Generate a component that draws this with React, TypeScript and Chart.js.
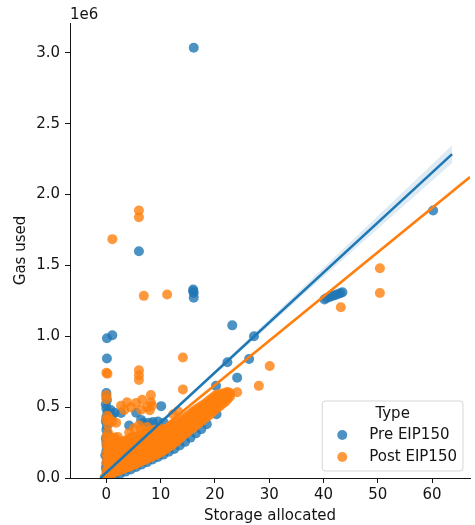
import React, { useEffect, useRef } from 'react';
import { Chart, registerables } from 'chart.js';

Chart.register(...registerables);

const FONT = '"DejaVu Sans", "Liberation Sans", sans-serif';
const FONT_SIZE = 15;
const TEXT = '#141414';

const xTicks = [0, 10, 20, 30, 40, 50, 60];
const yTicks = [0, 500000, 1000000, 1500000, 2000000, 2500000, 3000000];
const seriesNames = ['Pre EIP150', 'Post EIP150'];
const seriesRgb = ['31,119,180', '255,127,14'];
const legendTitle = 'Type';
const offsetLabel = '1e6';

// [storage allocated, gas used in thousands]
const preEip150: [number, number][] = [
  [16.1, 3035], [6.0, 1600], [60.2, 1887],
  [16.0, 1330], [16.0, 1318], [16.1, 1305], [16.1, 1272],
  [40.2, 1260], [40.6, 1270], [41.1, 1277], [41.6, 1284], [42.1, 1290], [42.6, 1297], [43.1, 1303], [43.5, 1310],
  [23.2, 1077], [27.2, 1000], [22.3, 817], [26.3, 840], [24.1, 708], [20.2, 650], [20.3, 450], [16.1, 395],
  [0.1, 986], [1.1, 1007], [0.1, 843],
  [10.1, 507], [10.6, 390], [13.0, 280],
  [1.5, 460], [2.7, 458], [1.0, 440], [0.8, 480],
  [5.5, 460], [6.4, 410], [6.8, 390], [7.8, 390], [8.6, 395], [9.5, 398], [4.2, 370],
  [0.0, 600], [0.0, 575], [0.1, 550], [-0.1, 520], [0.0, 490], [0.2, 460], [0.0, 430], [-0.1, 400],
  [0.1, 370], [0.0, 340], [0.2, 310], [-0.1, 280], [0.0, 250], [0.1, 220], [0.0, 190], [-0.2, 160],
  [0.1, 130], [0.0, 100], [-0.1, 70], [0.1, 40], [0.0, 15],
  [0.7, 8], [1.5, 15], [2.5, 28], [3.5, 45], [4.5, 60], [5.5, 78], [6.5, 95], [7.5, 112], [8.5, 130],
  [9.5, 148], [10.5, 165], [11.5, 185], [12.5, 205], [13.5, 230], [14.5, 255], [15.5, 285], [16.5, 315],
  [17.5, 345], [18.5, 380],
  [3.0, 150], [5.0, 200], [7.0, 260], [9.0, 300], [11.0, 340],
];

const postEip150: [number, number][] = [
  [6.0, 1887], [6.0, 1840], [1.1, 1685], [6.9, 1285], [11.2, 1295], [50.4, 1480], [50.4, 1305], [43.2, 1205],
  [30.1, 790], [28.1, 650], [24.1, 605],
  [14.1, 850], [14.1, 625], [6.0, 760], [6.0, 725], [6.0, 692], [0.0, 742], [0.2, 735],
  [0.0, 585], [0.0, 555], [0.2, 440], [0.5, 420], [1.1, 398], [0.0, 410], [1.8, 390], [0.3, 375],
  [0.3, 320], [0.0, 290], [0.2, 260], [0.0, 230], [0.3, 200], [0.0, 170], [0.2, 140], [0.0, 110],
  [0.3, 80], [0.0, 50], [0.2, 20], [-0.3, 5],
  [2.7, 510], [3.3, 480], [3.8, 535], [4.5, 500], [5.5, 530], [6.4, 482], [6.6, 552], [7.5, 500],
  [8.2, 585], [8.2, 535], [8.4, 510], [8.0, 478],
  [4.2, 320], [4.7, 290], [5.1, 350], [6.0, 372], [6.4, 340], [7.5, 360], [13.9, 320], [14.6, 370],
  [13.5, 345], [12.3, 450], [13.2, 470], [15.5, 390],
  [1.0, 30], [1.2, 85], [0.9, 135], [1.1, 185], [1.0, 235], [1.3, 280],
  [2.0, 45], [2.1, 95], [1.9, 145], [2.2, 195], [2.0, 245], [2.1, 290],
  [3.0, 60], [3.1, 110], [2.9, 160], [3.2, 210], [3.0, 260],
  [4.0, 75], [4.1, 125], [3.9, 175], [4.2, 225], [4.0, 270],
  [5.0, 90], [5.1, 140], [4.9, 190], [5.2, 240], [5.0, 285],
  [6.0, 110], [6.1, 160], [5.9, 210], [6.2, 260], [6.0, 300],
  [7.0, 125], [7.1, 175], [6.9, 225], [7.2, 275], [7.0, 315],
  [8.0, 145], [8.1, 195], [7.9, 245], [8.2, 290], [8.0, 330],
  [9.0, 160], [9.1, 210], [8.9, 255], [9.2, 300], [9.0, 340],
  [10.0, 180], [10.1, 215], [9.9, 250], [10.2, 285], [10.0, 320], [10.1, 350],
  [11.0, 205], [11.1, 240], [10.9, 275], [11.2, 310], [11.0, 345],
  [12.0, 230], [12.1, 265], [11.9, 300], [12.2, 335], [12.0, 365],
  [13.0, 260], [13.1, 295], [12.9, 330], [13.2, 360], [13.0, 390],
  [14.0, 295], [14.1, 325], [13.9, 355], [14.2, 385], [14.0, 410],
  [15.0, 325], [15.1, 355], [14.9, 385], [15.2, 415], [15.0, 440],
  [16.0, 355], [16.1, 385], [15.9, 415], [16.2, 445], [16.0, 470],
  [17.0, 385], [17.1, 415], [16.9, 445], [17.2, 470], [17.0, 495],
  [18.0, 415], [18.1, 445], [17.9, 470], [18.2, 495], [18.0, 520],
  [19.0, 445], [19.1, 475], [18.9, 500], [19.2, 525], [19.0, 550],
  [20.0, 480], [20.1, 510], [19.9, 535], [20.2, 560], [20.0, 580],
  [21.0, 510], [21.1, 540], [20.9, 565], [21.2, 590],
  [22.0, 540], [22.1, 565], [21.9, 590], [22.2, 605],
  [22.8, 575], [22.8, 600],
  [0.5, 20], [0.5, 60], [0.5, 110], [0.5, 160], [0.5, 210], [0.5, 260],
  [1.5, 40], [1.5, 90], [1.5, 140], [1.5, 190], [1.5, 240], [1.5, 285],
  [2.5, 55], [2.5, 105], [2.5, 155], [2.5, 205], [2.5, 255],
  [3.5, 70], [3.5, 120], [3.5, 170], [3.5, 220], [3.5, 265],
  [4.5, 85], [4.5, 135], [4.5, 185], [4.5, 235], [4.5, 280],
  [5.5, 100], [5.5, 150], [5.5, 200], [5.5, 250], [5.5, 290],
  [6.5, 118], [6.5, 168], [6.5, 218], [6.5, 265], [6.5, 305],
  [7.5, 135], [7.5, 185], [7.5, 235], [7.5, 280], [7.5, 320],
  [8.5, 152], [8.5, 200], [8.5, 250], [8.5, 295], [8.5, 335],
  [9.5, 170], [9.5, 200], [9.5, 235], [9.5, 270], [9.5, 305], [9.5, 340],
  [10.5, 192], [10.5, 228], [10.5, 262], [10.5, 298], [10.5, 333],
  [11.5, 218], [11.5, 252], [11.5, 288], [11.5, 322], [11.5, 355],
  [12.5, 245], [12.5, 280], [12.5, 315], [12.5, 348], [12.5, 378],
  [13.5, 278], [13.5, 310], [13.5, 342], [13.5, 372], [13.5, 400],
  [14.5, 310], [14.5, 340], [14.5, 370], [14.5, 400], [14.5, 425],
  [15.5, 340], [15.5, 370], [15.5, 400], [15.5, 430], [15.5, 455],
  [16.5, 370], [16.5, 400], [16.5, 430], [16.5, 458], [16.5, 483],
  [17.5, 400], [17.5, 430], [17.5, 458], [17.5, 483], [17.5, 508],
  [18.5, 430], [18.5, 460], [18.5, 485], [18.5, 510], [18.5, 535],
  [19.5, 462], [19.5, 492], [19.5, 518], [19.5, 542], [19.5, 565],
  [20.5, 495], [20.5, 525], [20.5, 550], [20.5, 575], [20.5, 590],
  [21.5, 525], [21.5, 552], [21.5, 578], [21.5, 598],
  [22.4, 560], [22.4, 585], [22.4, 605],
];

// regression fits (storage, gas in thousands)
const preFitX = [-1.1, 63.7];
const preFitY = [0, 2285];
const postFitX = [-1.0, 67.0];
const postFitY = [0, 2123];
// confidence band of the Pre EIP150 fit
const preCiX = [-1.1, 10, 20, 30, 40, 50, 63.7];
const preCiUpper = [8, 400, 759, 1120, 1483, 1849, 2348];
const preCiLower = [-8, 384, 731, 1076, 1419, 1759, 2222];

const K = 1000;
const toPts = (arr: [number, number][]) => arr.map(([x, y]) => ({ x, y: y * K }));
const zipPts = (xs: number[], ys: number[]) => xs.map((x, i) => ({ x, y: ys[i] * K }));

const font = { family: FONT, size: FONT_SIZE };

const overlayPlugin = {
  id: 'overlay',
  afterDraw(chart: any) {
    const { ctx, chartArea } = chart;
    ctx.save();
    ctx.font = `${FONT_SIZE}px ${FONT}`;
    ctx.fillStyle = TEXT;
    ctx.textAlign = 'left';
    ctx.textBaseline = 'alphabetic';
    ctx.fillText(offsetLabel, chartArea.left, chartArea.top - 4);

    const textW = Math.max(...seriesNames.map((t) => ctx.measureText(t).width));
    const w = 20 + 27 + textW + 6;
    const h = 70;
    const right = chartArea.right - 7;
    const bottom = chartArea.bottom - 7;
    const left = right - w;
    const top = bottom - h;
    const r = 3;
    ctx.beginPath();
    ctx.moveTo(left + r, top);
    ctx.lineTo(right - r, top);
    ctx.quadraticCurveTo(right, top, right, top + r);
    ctx.lineTo(right, bottom - r);
    ctx.quadraticCurveTo(right, bottom, right - r, bottom);
    ctx.lineTo(left + r, bottom);
    ctx.quadraticCurveTo(left, bottom, left, bottom - r);
    ctx.lineTo(left, top + r);
    ctx.quadraticCurveTo(left, top, left + r, top);
    ctx.closePath();
    ctx.fillStyle = 'rgba(255,255,255,0.8)';
    ctx.fill();
    ctx.strokeStyle = 'rgba(204,204,204,0.8)';
    ctx.lineWidth = 1;
    ctx.stroke();

    ctx.fillStyle = TEXT;
    ctx.textAlign = 'center';
    ctx.textBaseline = 'middle';
    ctx.fillText(legendTitle, left + w / 2, top + 13);
    seriesNames.forEach((name, i) => {
      const cy = top + 34 + i * 22;
      ctx.beginPath();
      ctx.arc(left + 20, cy, 5, 0, Math.PI * 2);
      ctx.fillStyle = `rgba(${seriesRgb[i]},0.8)`;
      ctx.fill();
      ctx.fillStyle = TEXT;
      ctx.textAlign = 'left';
      ctx.fillText(name, left + 47, cy);
    });
    ctx.restore();
  },
};

export default function App() {
  const ref = useRef<HTMLCanvasElement>(null);
  useEffect(() => {
    if (!ref.current) return;
    const chart = new Chart(ref.current, {
      type: 'scatter',
      data: {
        datasets: [
          {
            type: 'scatter',
            label: seriesNames[0],
            data: toPts(preEip150),
            backgroundColor: `rgba(${seriesRgb[0]},0.8)`,
            borderWidth: 0,
            pointRadius: 5,
            pointHoverRadius: 5,
            order: 4,
            clip: 0,
          },
          {
            type: 'scatter',
            label: seriesNames[1],
            data: toPts(postEip150),
            backgroundColor: `rgba(${seriesRgb[1]},0.8)`,
            borderWidth: 0,
            pointRadius: 5,
            pointHoverRadius: 5,
            order: 2,
            clip: 0,
          },
          {
            type: 'line',
            label: 'pre fit',
            data: zipPts(preFitX, preFitY),
            borderColor: `rgb(${seriesRgb[0]})`,
            borderWidth: 2.6,
            pointRadius: 0,
            fill: false,
            order: 0,
            clip: 0,
          },
          {
            type: 'line',
            label: 'post fit',
            data: zipPts(postFitX, postFitY),
            borderColor: `rgb(${seriesRgb[1]})`,
            borderWidth: 2.6,
            pointRadius: 0,
            fill: false,
            order: 1,
            clip: 0,
          },
          {
            type: 'line',
            label: 'pre ci upper',
            data: zipPts(preCiX, preCiUpper),
            borderWidth: 0,
            borderColor: 'rgba(0,0,0,0)',
            backgroundColor: `rgba(${seriesRgb[0]},0.15)`,
            pointRadius: 0,
            fill: '+1',
            order: 3,
            clip: 0,
          },
          {
            type: 'line',
            label: 'pre ci lower',
            data: zipPts(preCiX, preCiLower),
            borderWidth: 0,
            borderColor: 'rgba(0,0,0,0)',
            pointRadius: 0,
            fill: false,
            order: 3,
            clip: 0,
          },
        ],
      },
      options: {
        responsive: false,
        animation: false,
        devicePixelRatio: 1,
        layout: { padding: { left: 0, right: 1, top: 23, bottom: 0 } },
        plugins: {
          legend: { display: false },
          tooltip: { enabled: false },
          title: { display: false },
        },
        scales: {
          x: {
            type: 'linear',
            min: -6.7,
            max: 67,
            afterBuildTicks: (s: any) => {
              s.ticks = xTicks.map((v) => ({ value: v }));
            },
            afterFit: (s: any) => {
              s.height = 47;
            },
            ticks: { font, color: TEXT, padding: 3, callback: (v: any) => String(v) },
            grid: { drawOnChartArea: false, drawTicks: true, tickLength: 5, tickColor: TEXT, tickWidth: 1 },
            border: { display: true, color: TEXT, width: 1 },
            title: { display: true, text: 'Storage allocated', font, color: TEXT, padding: { top: 0, bottom: 0 } },
          },
          y: {
            type: 'linear',
            min: 0,
            max: 3210000,
            afterBuildTicks: (s: any) => {
              s.ticks = yTicks.map((v) => ({ value: v }));
            },
            afterFit: (s: any) => {
              s.width = 70;
            },
            ticks: { font, color: TEXT, padding: 5, callback: (v: any) => (Number(v) / 1e6).toFixed(1) },
            grid: { drawOnChartArea: false, drawTicks: true, tickLength: 5, tickColor: TEXT, tickWidth: 1 },
            border: { display: true, color: TEXT, width: 1 },
            title: { display: true, text: 'Gas used', font, color: TEXT, padding: { top: 12, bottom: 0 } },
          },
        },
      },
      plugins: [overlayPlugin],
    } as any);
    return () => chart.destroy();
  }, []);
  return (
    <div style={{ position: 'absolute', left: 0, top: 0, width: 475, height: 525, background: '#fff' }}>
      <canvas ref={ref} width={475} height={525} style={{ display: 'block', width: 475, height: 525 }} />
    </div>
  );
}
